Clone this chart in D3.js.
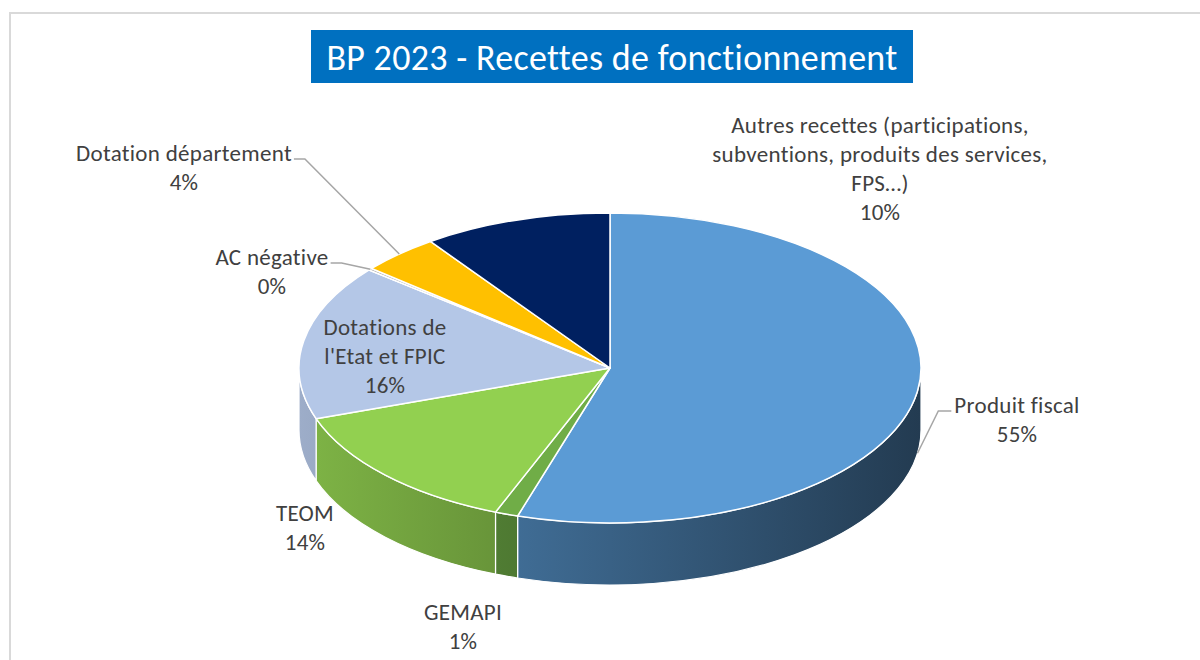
<!DOCTYPE html>
<html lang="fr">
<head>
<meta charset="utf-8">
<title>BP 2023 - Recettes de fonctionnement</title>
<script src="https://cdn.jsdelivr.net/npm/d3@7"></script>
<style>
  html, body { margin: 0; padding: 0; background: #ffffff; }
  svg { display: block; }
  text { font-family: Carlito, Calibri, Lato, "Open Sans", sans-serif; }
</style>
</head>
<body>
<svg id="chart" width="1200" height="660"></svg>
<script>
// Operating revenue breakdown, budget 2023 (share of total, %)
const categories = [
  "Produit fiscal",
  "GEMAPI",
  "TEOM",
  "Dotations de l'Etat et FPIC",
  "AC négative",
  "Dotation département",
  "Autres recettes (participations, subventions, produits des services, FPS…)"
];
const shares = [54.8, 1.2, 13.7, 16.2, 0.2, 4.1, 9.8];
const sliceColors = ["#5b9bd5", "#70ad47", "#92d050", "#b4c7e7", "#a5a5a5", "#ffc000", "#002060"];
// Category names as wrapped on the chart
const labelLines = [
  ["Produit fiscal"],
  ["GEMAPI"],
  ["TEOM"],
  ["Dotations de", "l'Etat et FPIC"],
  ["AC négative"],
  ["Dotation département"],
  ["Autres recettes (participations,", "subventions, produits des services,", "FPS…)"]
];
const chartTitle = "BP 2023 - Recettes de fonctionnement";

// ---- layout ----
const W = 1200, H = 660;
const cx = 610, cy = 368;     // pie centre (top face)
const rx = 311, ry = 155;     // top face ellipse radii
const depth = 62;             // thickness of the pie
const fontSize = 23, lineH = 29;

// label block placement relative to the pie centre, and leader settings
const labelLayout = [
  { dx: 407, dy: 37,   leader: "left",  onSide: true },
  { dx: -147, dy: 244, leader: null },
  { dx: -305, dy: 145, leader: null },
  { dx: -225, dy: -41, leader: null },
  { dx: -338, dy: -111, leader: "right", onSide: false },
  { dx: -426, dy: -215, leader: "right", onSide: false },
  { dx: 270, dy: -243, leader: null }
];

const svg = d3.select("#chart");

// outer frame of the chart area
svg.append("rect")
  .attr("x", 10).attr("y", 13)
  .attr("width", W + 10).attr("height", H + 10)
  .attr("fill", "#ffffff")
  .attr("stroke", "#d9d9d9").attr("stroke-width", 2);

// title banner
const titleG = svg.append("g");
titleG.append("rect")
  .attr("x", 311).attr("y", 30)
  .attr("width", 602).attr("height", 53)
  .attr("fill", "#0070c0");
titleG.append("text")
  .attr("x", 612).attr("y", 57)
  .attr("dy", "0.35em")
  .attr("text-anchor", "middle")
  .attr("fill", "#ffffff")
  .style("font-size", "36px")
  .style("letter-spacing", "0.3px")
  .text(chartTitle);

// ---- pie geometry ----
const total = d3.sum(shares);
const arcs = d3.pie().sort(null).value(d => d)(shares);

// point on the projected ellipse for an angle measured clockwise from 12 o'clock
const pt = (a, drop = 0) => [cx + rx * Math.sin(a), cy - ry * Math.cos(a) + drop];

function topPath(a0, a1) {
  const p0 = pt(a0), p1 = pt(a1);
  const large = (a1 - a0) > Math.PI ? 1 : 0;
  return `M${cx},${cy}L${p0[0]},${p0[1]}A${rx},${ry} 0 ${large} 1 ${p1[0]},${p1[1]}Z`;
}

function wallPath(b0, b1) {
  const p0 = pt(b0), p1 = pt(b1), q1 = pt(b1, depth), q0 = pt(b0, depth);
  return `M${p0[0]},${p0[1]}A${rx},${ry} 0 0 1 ${p1[0]},${p1[1]}` +
         `L${q1[0]},${q1[1]}A${rx},${ry} 0 0 0 ${q0[0]},${q0[1]}Z`;
}

// side shading: light from the left, darker toward the right
const shade = d3.scaleLinear().domain([cx - rx, cx + rx]).range([0.87, 0.38]);
const defs = svg.append("defs");
sliceColors.forEach((c, i) => {
  const g = defs.append("linearGradient")
    .attr("id", "wall" + i)
    .attr("gradientUnits", "userSpaceOnUse")
    .attr("x1", cx - rx).attr("y1", 0)
    .attr("x2", cx + rx).attr("y2", 0);
  const base = d3.rgb(c);
  [cx - rx, cx + rx].forEach((x, k) => {
    const f = shade(x);
    g.append("stop")
      .attr("offset", k)
      .attr("stop-color", d3.rgb(base.r * f, base.g * f, base.b * f).formatHex());
  });
});

const pieG = svg.append("g");

// front walls (only the part of each slice facing the viewer)
const front0 = Math.PI / 2, front1 = 3 * Math.PI / 2;
arcs.forEach((d, i) => {
  const b0 = Math.max(d.startAngle, front0), b1 = Math.min(d.endAngle, front1);
  if (b1 - b0 <= 1e-6) return;
  pieG.append("path")
    .attr("d", wallPath(b0, b1))
    .attr("fill", `url(#wall${i})`)
    .attr("stroke", "#ffffff").attr("stroke-width", 1.2)
    .attr("stroke-linejoin", "round");
});

// top faces
arcs.forEach((d, i) => {
  if (d.endAngle - d.startAngle <= 1e-6) return;
  pieG.append("path")
    .attr("d", topPath(d.startAngle, d.endAngle))
    .attr("fill", sliceColors[i])
    .attr("stroke", "#ffffff").attr("stroke-width", 1.5)
    .attr("stroke-linejoin", "round");
});

// ---- data labels ----
const labelG = svg.append("g");
arcs.forEach((d, i) => {
  const L = labelLayout[i];
  const x = cx + L.dx, y0 = cy + L.dy;
  const pct = Math.round(shares[i] / total * 100) + "%";
  const lines = labelLines[i].concat([pct]);
  const t = labelG.append("text")
    .attr("text-anchor", "middle")
    .attr("fill", "#404040")
    .style("font-size", fontSize + "px")
    .style("letter-spacing", "0.3px");
  lines.forEach((s, k) => {
    t.append("tspan").attr("x", x).attr("y", y0 + k * lineH).attr("dy", "0.35em").text(s);
  });

  if (L.leader) {
    const w = t.select("tspan").node().getComputedTextLength();
    const mid = (d.startAngle + d.endAngle) / 2;
    const target = pt(mid, L.onSide ? depth : 0);
    const sy = y0 + 6;
    const sx = L.leader === "right" ? x + w / 2 + 2 : x - w / 2 - 3;
    const ex = L.leader === "right" ? sx + 11 : sx - 13;
    labelG.insert("polyline", "text")
      .attr("points", [[sx, sy], [ex, sy], target].map(p => p.join(",")).join(" "))
      .attr("fill", "none")
      .attr("stroke", "#a6a6a6").attr("stroke-width", 1.5);
  }
});
</script>
</body>
</html>
